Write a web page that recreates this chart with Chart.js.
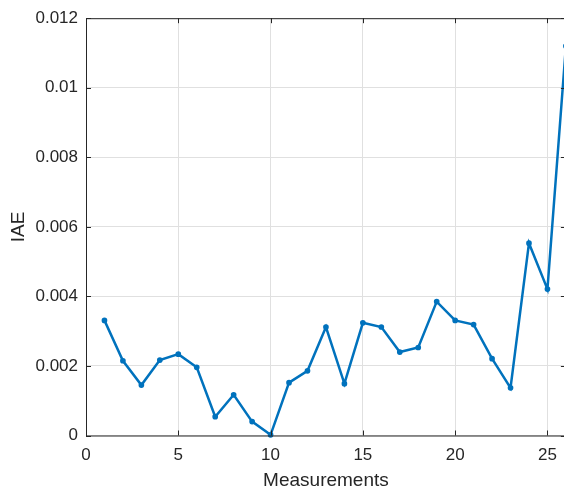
<!DOCTYPE html>
<html>
<head>
<meta charset="utf-8">
<script src="https://cdn.jsdelivr.net/npm/chart.js@4/dist/chart.umd.min.js"></script>
<style>
html,body{margin:0;padding:0;background:#fff;overflow:hidden;width:564px;height:492px;}
#wrap{position:absolute;left:0;top:0;width:570px;height:492px;}
</style>
</head>
<body>
<div id="wrap"><canvas id="c" width="570" height="492"></canvas></div>
<script>
const measurements = [1,2,3,4,5,6,7,8,9,10,11,12,13,14,15,16,17,18,19,20,21,22,23,24,25,26];
const iae = [0.00331,0.00215,0.00145,0.00217,0.00234,0.00196,0.00054,0.00117,0.00040,0.00002,
             0.00152,0.00186,0.00312,0.00149,0.00324,0.00312,0.00240,0.00253,0.00385,0.00331,
             0.00319,0.00221,0.00137,0.00553,0.00421,0.01120];
const xTicks = [0,5,10,15,20,25];
const yTicks = [0,0.002,0.004,0.006,0.008,0.01,0.012];

const AX = '#262626';
const boxPlugin = {
  id:'box',
  afterDatasetsDraw(chart){
    const {ctx, chartArea:{left,right,top,bottom}, scales:{x,y}} = chart;
    ctx.save();
    ctx.strokeStyle = AX; ctx.lineWidth = 1;
    ctx.beginPath();
    ctx.moveTo(left+0.5, top+0.5); ctx.lineTo(right, top+0.5);
    ctx.moveTo(left+0.5, top); ctx.lineTo(left+0.5, bottom+0.5);
    ctx.moveTo(left, bottom+0.5); ctx.lineTo(right, bottom+0.5);
    ctx.moveTo(right-0.5, top); ctx.lineTo(right-0.5, bottom);
    xTicks.forEach(v=>{
      const p = Math.round(x.getPixelForValue(v))+0.5;
      ctx.moveTo(p,bottom); ctx.lineTo(p,bottom-5);
      ctx.moveTo(p,top); ctx.lineTo(p,top+5);
    });
    yTicks.forEach(v=>{
      const p = Math.round(y.getPixelForValue(v))+0.5;
      ctx.moveTo(left,p); ctx.lineTo(left+5,p);
      ctx.moveTo(right,p); ctx.lineTo(right-5,p);
    });
    ctx.stroke();
    ctx.restore();
  }
};

Chart.defaults.font.family = '"Liberation Sans", Arial, sans-serif';
Chart.defaults.color = AX;

new Chart(document.getElementById('c'), {
  type:'line',
  data:{
    datasets:[{
      data: measurements.map((m,i)=>({x:m, y:iae[i]})),
      borderColor:'#0072BD',
      backgroundColor:'#0072BD',
      borderWidth:2.5,
      pointRadius:1.6,
      pointHoverRadius:1.6,
      pointStyle:'circle',
      tension:0,
      clip:false
    }]
  },
  options:{
    responsive:false,
    animation:false,
    devicePixelRatio:1,
    layout:{padding:{top:14,right:0,bottom:0,left:0}},
    plugins:{legend:{display:false},tooltip:{enabled:false}},
    scales:{
      x:{
        type:'linear', min:0, max:26,
        afterBuildTicks(s){ s.ticks = xTicks.map(v=>({value:v})); },
        afterFit(s){ s.height = 56.5; },
        grid:{color:'#e0e0e0', drawTicks:false, lineWidth:1},
        border:{display:false},
        ticks:{font:{size:17}, padding:10, color:AX, maxRotation:0,
          callback:(v)=>String(v)},
        title:{display:true, text:'Measurements', font:{size:19}, color:AX, padding:{top:0,bottom:0}}
      },
      y:{
        type:'linear', min:0, max:0.012,
        afterBuildTicks(s){ s.ticks = yTicks.map(v=>({value:v})); },
        afterFit(s){ s.width = 86; },
        grid:{color:'#e0e0e0', drawTicks:false, lineWidth:1},
        border:{display:false},
        ticks:{font:{size:17}, padding:8, color:AX,
          callback:(v)=>String(parseFloat(v.toFixed(4)))},
        title:{display:true, text:'IAE', font:{size:19}, color:AX, padding:{top:7,bottom:0}}
      }
    }
  },
  plugins:[boxPlugin]
});
</script>
</body>
</html>
